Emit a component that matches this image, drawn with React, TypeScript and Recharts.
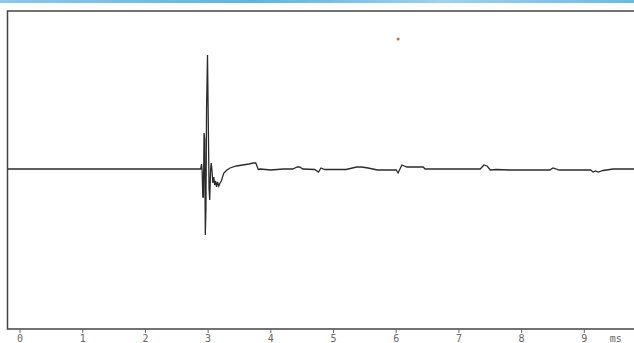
import React from 'react';
import { LineChart, Line, XAxis, YAxis, ReferenceDot, ReferenceArea } from 'recharts';

// time in ms, amplitude in arbitrary units (baseline = 0)
const timeMs = [
  -0.2, 0, 2.88, 2.895, 2.905, 2.915, 2.925, 2.935, 2.945, 2.955, 2.965, 2.975, 2.99, 3.0,
  3.015, 3.025, 3.04, 3.05, 3.065, 3.075, 3.09, 3.105, 3.12, 3.135, 3.15, 3.17, 3.19,
  3.21, 3.25, 3.3, 3.35, 3.45, 3.55, 3.65, 3.72, 3.76, 3.8, 3.83, 4.0, 4.2, 4.35, 4.42,
  4.46, 4.51, 4.7, 4.76, 4.8, 4.86, 4.92, 5.2, 5.37, 5.45, 5.55, 5.7, 6.0, 6.03, 6.09,
  6.17, 6.43, 6.46, 7.0, 7.34, 7.4, 7.45, 7.5, 7.6, 7.8, 8.2, 8.45, 8.5, 8.6, 9.1, 9.14,
  9.18, 9.22, 9.3, 9.46, 9.8, 10,
];
const amplitude = [
  0, 0, 0, 5, -2, -28, -28, 36, 30, -66, -40, 60, 114, 60,
  -20, -31, 0, 6, -4, -14, -8, -16, -12, -18, -13, -17, -14,
  -12, -4, -1, 1, 3, 4, 5, 6, 6, -0.5, 0, -1, 0, 0, 2,
  2, 0, -0.5, -3, 1, -0.5, -0.5, -0.5, 2, 2, 1, -1, -1, -4, 4,
  2, 2, 0, 0, 0, 4, 3, -1, -0.5, -1, -1, -1, 1, -1, -1, -3,
  -2, -3, -1.5, 0, 0, 0,
];

const xTicks = [0, 1, 2, 3, 4, 5, 6, 7, 8, 9, 9.5];
const xTickLabels = ['0', '1', '2', '3', '4', '5', '6', '7', '8', '9', 'ms'];

const data = timeMs.map((t, i) => ({ t, v: amplitude[i] }));

const AxisTick = (props: any) => {
  const { x, y, payload } = props;
  const idx = xTicks.indexOf(payload.value);
  const label = xTickLabels[idx] ?? '';
  const isUnit = label === 'ms';
  return (
    <g>
      {!isUnit && <line x1={x} x2={x} y1={y - 5} y2={y - 1} stroke="#666" strokeWidth={1} />}
      <text
        x={x}
        y={y + 8}
        textAnchor="middle"
        fill="#666"
        fontSize={10}
        fontFamily="'DejaVu Sans Mono', monospace"
      >
        {label}
      </text>
    </g>
  );
};

export default function App() {
  return (
    <div
      style={{
        position: 'absolute',
        left: 0,
        top: 0,
        width: 634,
        height: 343,
        overflow: 'hidden',
        background: '#fff',
      }}
    >
      <div
        style={{
          position: 'absolute',
          left: 0,
          top: 0,
          width: 634,
          height: 3,
          background: 'linear-gradient(90deg, #8cc8ea, #5fb3e3 40%, #9fd2ee 70%, #6ab8e4)',
        }}
      />
      <LineChart
        width={660}
        height={343}
        data={data}
        margin={{ top: 11, right: 13, left: 7.5, bottom: 0 }}
      >
        <XAxis
          dataKey="t"
          type="number"
          domain={[-0.2, 10]}
          ticks={xTicks}
          interval={0}
          height={14}
          tickSize={3}
          tickMargin={2}
          tickLine={false}
          axisLine={false}
          tick={<AxisTick />}
          allowDataOverflow
        />
        <YAxis
          type="number"
          domain={[-160, 158]}
          width={0}
          tick={false}
          tickLine={false}
          axisLine={false}
          allowDataOverflow
        />
        <ReferenceArea
          x1={-0.2}
          x2={10}
          y1={-160}
          y2={158}
          fill="none"
          stroke="#444"
          strokeWidth={1.5}
          fillOpacity={0}
        />
        <ReferenceDot x={6.03} y={130} r={1.5} fill="#b07848" stroke="none" />
        <Line
          type="linear"
          dataKey="v"
          stroke="#2b2b2b"
          strokeWidth={1.3}
          dot={false}
          isAnimationActive={false}
        />
      </LineChart>
    </div>
  );
}
